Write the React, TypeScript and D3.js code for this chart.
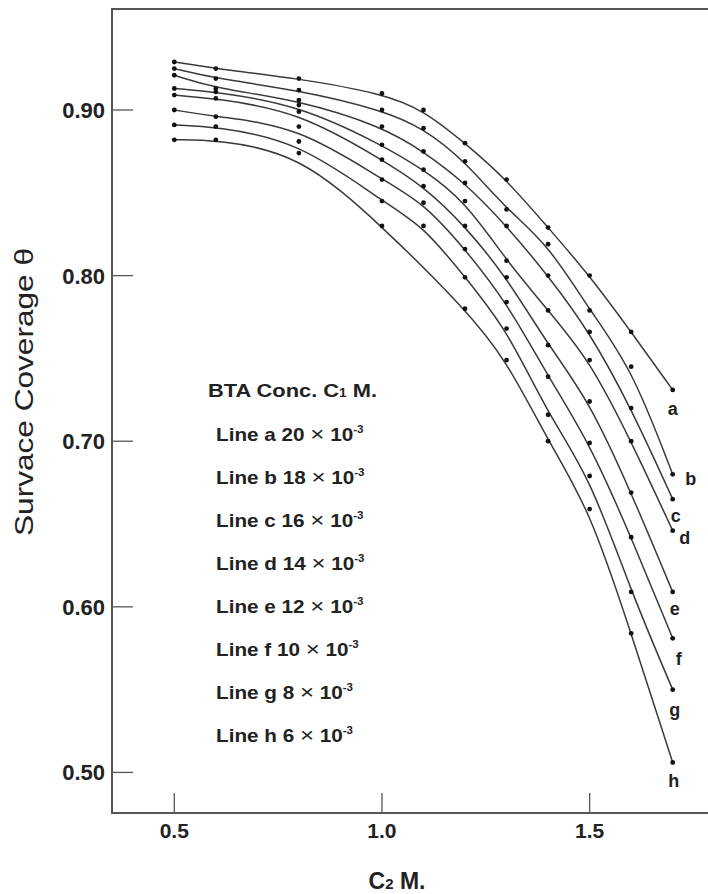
import React, { useEffect, useRef } from 'react';
import * as d3 from 'd3';

// C2 concentration (x) where points were measured
const c2Values = [0.5, 0.6, 0.8, 1.0, 1.1, 1.2, 1.3, 1.4, 1.5, 1.6, 1.7];

// surface coverage for each BTA concentration line (null = no point)
const lineA = [0.929, 0.925, 0.919, 0.910, 0.900, 0.880, 0.858, 0.829, 0.800, 0.766, 0.731];
const lineB = [0.925, 0.919, 0.912, 0.900, 0.889, 0.869, 0.840, 0.819, 0.779, 0.745, 0.680];
const lineC = [0.921, 0.913, 0.906, 0.890, 0.875, 0.856, 0.830, 0.800, 0.766, 0.720, 0.665];
const lineD = [0.913, 0.911, 0.903, 0.879, 0.864, 0.845, 0.809, 0.779, 0.749, 0.700, 0.646];
const lineE = [0.909, 0.907, 0.899, 0.870, 0.854, 0.830, 0.799, 0.758, 0.724, 0.669, 0.609];
const lineF = [0.900, 0.896, 0.890, 0.858, 0.844, 0.816, 0.784, 0.739, 0.699, 0.642, 0.581];
const lineG = [0.891, 0.890, 0.881, 0.845, 0.830, 0.799, 0.768, 0.716, 0.679, 0.609, 0.550];
const lineH = [0.882, 0.882, 0.874, 0.830, null, 0.780, 0.749, 0.700, 0.659, 0.584, 0.506];

const lineNames = ['a', 'b', 'c', 'd', 'e', 'f', 'g', 'h'];
const concentrations = ['20', '18', '16', '14', '12', '10', '8', '6'];
const xTicks = [0.5, 1.0, 1.5];
const yTicks = [0.5, 0.6, 0.7, 0.8, 0.9];

const FONT = '"Liberation Sans", Arial, Helvetica, sans-serif';

const App = () => {
  const chartRef = useRef<HTMLDivElement>(null);

  useEffect(() => {
    d3.select(chartRef.current).select('svg').remove();

    const width = 708;
    const height = 894;
    const left = 112, top = 9, bottom = 813;

    const x = d3.scaleLinear().domain([0.35, 1.785]).range([left, width]);
    const y = d3.scaleLinear().domain([0.4755, 0.961]).range([bottom, top]);

    const svg = d3.select(chartRef.current)
      .append('svg')
      .attr('width', width)
      .attr('height', height)
      .style('position', 'absolute')
      .style('left', 0)
      .style('top', 0)
      .style('font-family', FONT);

    svg.append('rect').attr('width', width).attr('height', height).attr('fill', '#fff');

    // frame: left, top, bottom
    const frameColor = '#555';
    svg.append('path')
      .attr('d', `M${width},${top}H${left}V${bottom}H${width}`)
      .attr('fill', 'none')
      .attr('stroke', frameColor)
      .attr('stroke-width', 2);

    // y ticks (inside)
    svg.selectAll('.ytick')
      .data(yTicks)
      .enter()
      .append('line')
      .attr('x1', left)
      .attr('x2', left + 21)
      .attr('y1', d => y(d))
      .attr('y2', d => y(d))
      .attr('stroke', frameColor)
      .attr('stroke-width', 1.3);

    svg.selectAll('.ylab')
      .data(yTicks)
      .enter()
      .append('text')
      .attr('x', left - 7)
      .attr('y', d => y(d))
      .attr('dy', '0.36em')
      .attr('text-anchor', 'end')
      .style('font-size', '22px')
      .style('font-weight', 'bold')
      .style('fill', '#222')
      .text(d => d.toFixed(2));

    // x ticks (inside)
    svg.selectAll('.xtick')
      .data(xTicks)
      .enter()
      .append('line')
      .attr('x1', d => x(d))
      .attr('x2', d => x(d))
      .attr('y1', bottom)
      .attr('y2', bottom - 20)
      .attr('stroke', frameColor)
      .attr('stroke-width', 1.3);

    svg.selectAll('.xlab')
      .data(xTicks)
      .enter()
      .append('text')
      .attr('x', d => x(d))
      .attr('y', bottom + 25)
      .attr('text-anchor', 'middle')
      .style('font-size', '21px')
      .style('font-weight', 'bold')
      .style('fill', '#222')
      .text(d => d.toFixed(1));

    // axis titles
    const xTitle = svg.append('text')
      .attr('x', 397)
      .attr('y', 889)
      .attr('text-anchor', 'middle')
      .style('font-size', '23px')
      .style('font-weight', 'bold')
      .style('fill', '#222');
    xTitle.append('tspan').text('C');
    xTitle.append('tspan').style('font-size', '15px').text('2');
    xTitle.append('tspan').text(' M.');

    svg.append('text')
      .attr('transform', 'translate(33,392) rotate(-90)')
      .attr('text-anchor', 'middle')
      .attr('textLength', 288)
      .attr('lengthAdjust', 'spacingAndGlyphs')
      .style('font-size', '25px')
      .style('fill', '#222')
      .text('Survace Coverage θ');

    // series
    const series = [lineA, lineB, lineC, lineD, lineE, lineF, lineG, lineH].map((vals, i) => ({
      name: lineNames[i],
      points: c2Values
        .map((c, j) => ({ c, v: vals[j] }))
        .filter(p => p.v !== null) as { c: number; v: number }[]
    }));

    // smoothed fit: points need not lie exactly on the curve
    const line = d3.line<{ c: number; v: number }>()
      .x(d => x(d.c))
      .y(d => y(d.v))
      .curve(d3.curveBasis);

    svg.selectAll('.series')
      .data(series)
      .enter()
      .append('path')
      .attr('d', d => line(d.points))
      .attr('fill', 'none')
      .attr('stroke', '#3a3a3a')
      .attr('stroke-width', 1.5);

    series.forEach(s => {
      svg.selectAll(null)
        .data(s.points)
        .enter()
        .append('circle')
        .attr('cx', d => x(d.c))
        .attr('cy', d => y(d.v))
        .attr('r', 2.4)
        .attr('fill', '#111');
    });

    // end labels a..h
    const labelOffsets = [[0, 19], [18, 4], [3, 16], [12, 7], [2, 17], [6, 20], [2, 20], [1, 18]];
    svg.selectAll('.endlab')
      .data(series)
      .enter()
      .append('text')
      .attr('x', (d, i) => x(d.points[d.points.length - 1].c) + labelOffsets[i][0])
      .attr('y', (d, i) => y(d.points[d.points.length - 1].v) + labelOffsets[i][1])
      .attr('dy', '0.36em')
      .attr('text-anchor', 'middle')
      .style('font-size', '18px')
      .style('font-weight', 'bold')
      .style('fill', '#222')
      .text(d => d.name);

    // legend
    const legend = svg.append('g')
      .attr('transform', 'translate(208,0) scale(1.15,1)')
      .style('font-weight', 'bold')
      .style('fill', '#222');

    const title = legend.append('text')
      .attr('x', 0)
      .attr('y', 397)
      .style('font-size', '19px');
    title.append('tspan').text('BTA Conc. C');
    title.append('tspan').style('font-size', '12px').text('1');
    title.append('tspan').text(' M.');

    concentrations.forEach((c, i) => {
      const t = legend.append('text')
        .attr('x', 7)
        .attr('y', 441 + i * 43)
        .style('font-size', '18px');
      t.append('tspan').text(`Line ${lineNames[i]} ${c} `);
      t.append('tspan').style('font-weight', 'normal').style('font-size', '21px').text('×');
      t.append('tspan').text(' 10');
      t.append('tspan')
        .attr('dy', -8)
        .style('font-size', '10px')
        .text('-3');
    });
  }, []);

  return (
    <div ref={chartRef}></div>
  );
};

export default App;
